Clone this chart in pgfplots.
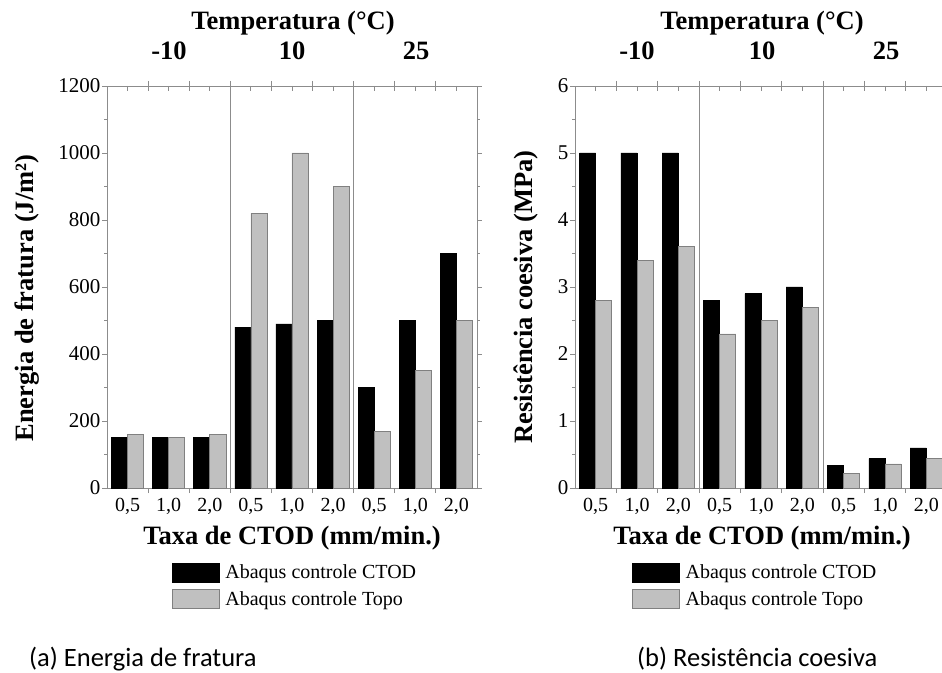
\documentclass[border=0pt]{standalone}
\usepackage{fontspec}
\setmainfont{Liberation Serif}
\newfontfamily\capfont{Carlito}
\usepackage{pgfplots}
\pgfplotsset{compat=1.18}
\definecolor{barg}{HTML}{C0C0C0}
\definecolor{edgeg}{HTML}{808080}
\definecolor{axg}{HTML}{8C8C8C}
\pgfplotsset{
  boxlegend/.style={legend image code/.code={\draw[##1] (0pt,-9.5pt) rectangle (47pt,9.5pt);}},
  panel/.style={scale only axis, height=402pt, xmin=-0.5, xmax=8.5, ymin=0,
    axis line style={axg, line width=0.8pt},
    tick style={axg, line width=0.8pt},
    tick align=outside, major tick length=5pt, minor tick length=3pt,
    xticklabel style={font=\fontsize{20}{24}\selectfont},
    yticklabel style={font=\fontsize{21}{25}\selectfont, inner sep=1.5pt},
    /pgf/number format/assume math mode=true, /pgf/number format/1000 sep={},
    xtick={0.5,1.5,...,7.5}, xticklabels={},
    extra x ticks={0,1,2,3,4,5,6,7,8},
    extra x tick labels={{0,5},{1,0},{2,0},{0,5},{1,0},{2,0},{0,5},{1,0},{2,0}},
    extra x tick style={major tick length=0pt, xticklabel style={inner sep=2pt, yshift=-8pt}},
    minor y tick num=1,
    legend style={draw=none, fill=none, anchor=north west, inner sep=0pt,
      font=\fontsize{20}{24}\selectfont, row sep=6pt, column sep=3pt, cells={anchor=west},
      nodes={inner sep=2.5pt}},
  },
  topticks/.style={scale only axis, height=402pt, xmin=-0.5, xmax=8.5, ymin=0, ymax=1,
    axis x line*=top, axis y line=none,
    axis line style={axg, line width=0.8pt},
    tick style={axg, line width=0.8pt},
    xtick={0,0.5,...,8}, xticklabels={}, tick align=inside, major tick length=5pt},
  blk/.style={ybar, bar width=0.39, bar shift=-0.195, fill=black, draw=black, line width=0.6pt, boxlegend},
  gry/.style={ybar, bar width=0.39, bar shift=0.195, fill=barg, draw=edgeg, line width=0.6pt, boxlegend},
}
\begin{document}
\begin{tikzpicture}
\useasboundingbox (0pt,0pt) rectangle (942pt,672pt);
% ---------- left panel ----------
\begin{axis}[panel, width=370pt, at={(107pt,184pt)}, anchor=south west,
  ymax=1200, ytick={0,200,...,1200},
  legend style={at={(0.176,-0.185)}}]
\addplot[blk] coordinates {(0,150) (1,150) (2,150) (3,480) (4,490) (5,500) (6,300) (7,500) (8,700)};
\addplot[gry] coordinates {(0,160) (1,150) (2,160) (3,820) (4,1000) (5,900) (6,170) (7,350) (8,500)};
\draw[axg, line width=0.8pt] (axis cs:2.5,0) -- (axis cs:2.5,1200);
\draw[axg, line width=0.8pt] (axis cs:5.5,0) -- (axis cs:5.5,1200);
\legend{Abaqus controle CTOD, Abaqus controle Topo}
\end{axis}
\begin{axis}[topticks, width=370pt, at={(107pt,184pt)}, anchor=south west]
\end{axis}
% ---------- right panel ----------
\begin{axis}[panel, width=372pt, at={(575pt,184pt)}, anchor=south west,
  ymax=6, ytick={0,1,...,6},
  legend style={at={(0.154,-0.185)}}]
\addplot[blk] coordinates {(0,5.0) (1,5.0) (2,5.0) (3,2.8) (4,2.9) (5,3.0) (6,0.34) (7,0.44) (8,0.6)};
\addplot[gry] coordinates {(0,2.8) (1,3.4) (2,3.6) (3,2.3) (4,2.5) (5,2.7) (6,0.22) (7,0.36) (8,0.44)};
\draw[axg, line width=0.8pt] (axis cs:2.5,0) -- (axis cs:2.5,6);
\draw[axg, line width=0.8pt] (axis cs:5.5,0) -- (axis cs:5.5,6);
\legend{Abaqus controle CTOD, Abaqus controle Topo}
\end{axis}
\begin{axis}[topticks, width=372pt, at={(575pt,184pt)}, anchor=south west]
\end{axis}
% ---------- labels ----------
\begin{scope}[every node/.style={font=\fontsize{26.5}{30}\selectfont\bfseries, inner sep=0pt}]
\node[anchor=base] at (293pt,642pt) {Temperatura (°C)};
\node[anchor=base] at (169pt,612pt) {-10};
\node[anchor=base] at (292pt,612pt) {10};
\node[anchor=base] at (416pt,612pt) {25};
\node[anchor=base] at (292pt,127pt) {Taxa de CTOD (mm/min.)};
\node[anchor=base, rotate=90] at (33pt,374pt) {Energia de fratura (J/m²)};
\node[anchor=base] at (762pt,642pt) {Temperatura (°C)};
\node[anchor=base] at (637pt,612pt) {-10};
\node[anchor=base] at (762pt,612pt) {10};
\node[anchor=base] at (886pt,612pt) {25};
\node[anchor=base] at (762pt,127pt) {Taxa de CTOD (mm/min.)};
\node[anchor=base, rotate=90] at (532pt,375pt) {Resistência coesiva (MPa)};
\end{scope}
\node[anchor=base west, inner sep=0pt, font=\capfont\fontsize{26.5}{30}\selectfont] at (29pt,6pt) {(a) Energia de fratura};
\node[anchor=base west, inner sep=0pt, font=\capfont\fontsize{26.5}{30}\selectfont] at (637pt,6pt) {(b) Resistência coesiva};
\end{tikzpicture}
\end{document}
